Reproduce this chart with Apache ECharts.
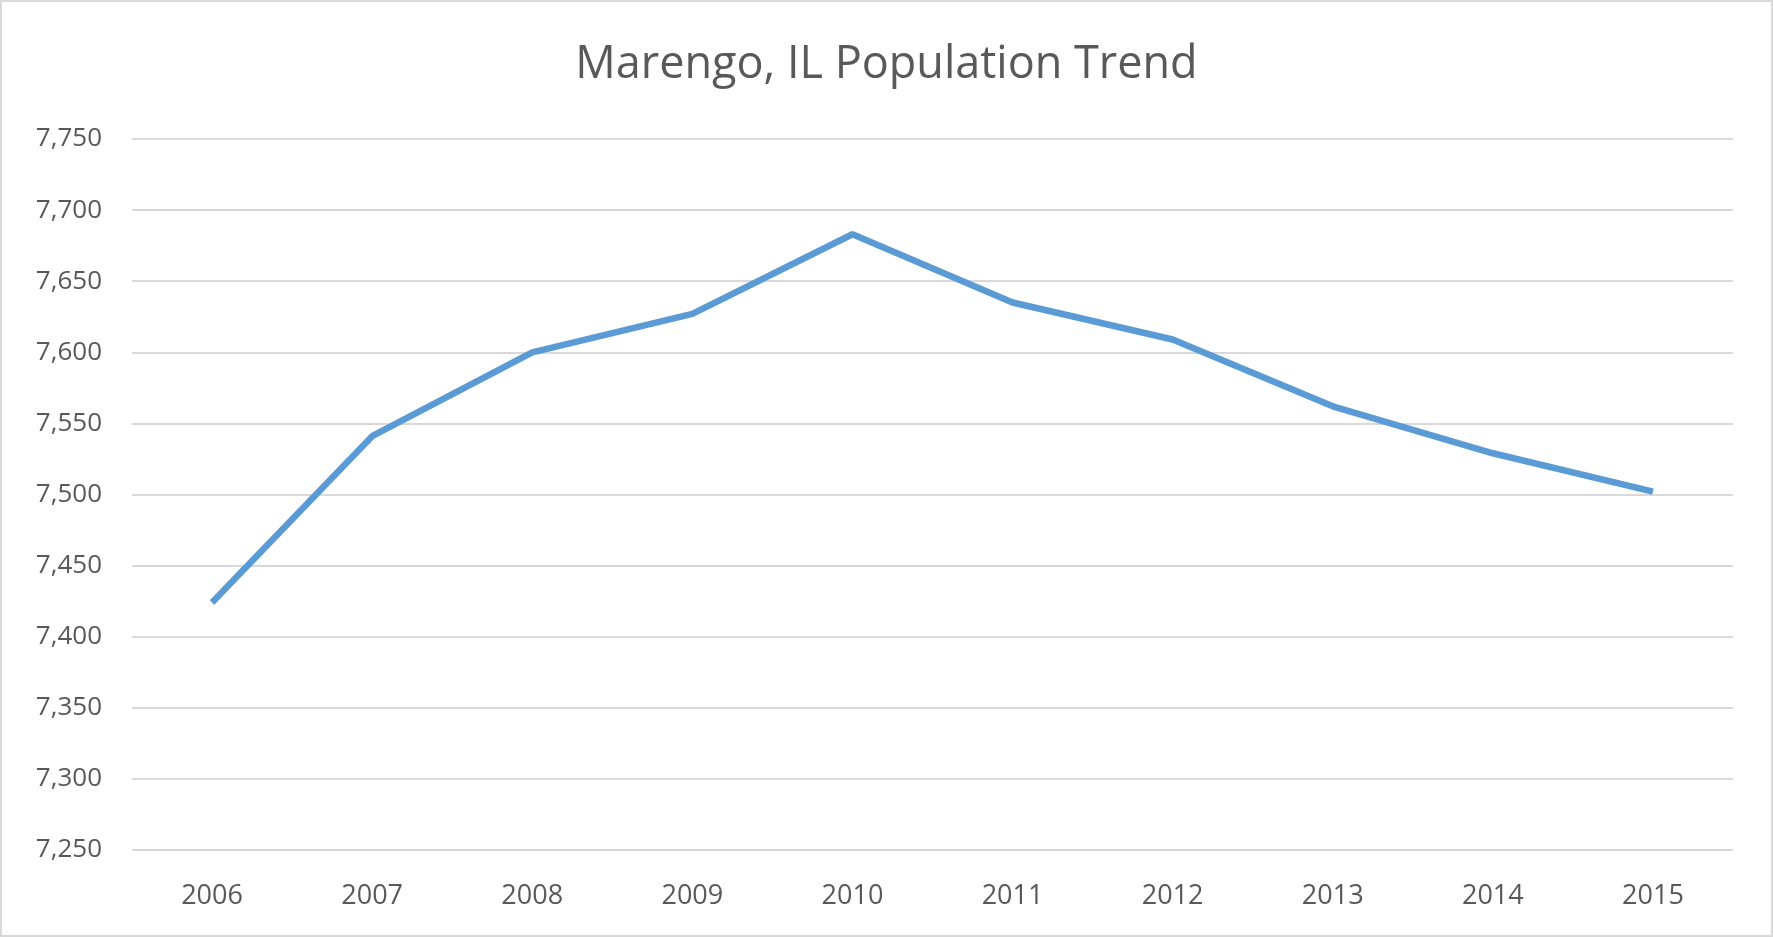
<!DOCTYPE html>
<html>
<head>
<meta charset="utf-8">
<title>Marengo, IL Population Trend</title>
<script src="https://cdn.jsdelivr.net/npm/echarts@6/dist/echarts.min.js"></script>
<style>
  html, body { margin: 0; padding: 0; background: #fff; }
  #chart { width: 1773px; height: 937px; box-sizing: border-box; border: 2px solid #d9d9d9; }
</style>
</head>
<body>
<div id="chart"></div>
<script>
// years on the x axis
const years = ['2006', '2007', '2008', '2009', '2010', '2011', '2012', '2013', '2014', '2015'];
// population
const population = [7424, 7541, 7600, 7627, 7683, 7635, 7609, 7562, 7529, 7502];
// y axis range
const yMin = 7250;
const yMax = 7750;
const yStep = 50;

const chart = echarts.init(document.getElementById('chart'));

const option = {
  backgroundColor: '#fff',
  animation: false,
  title: {
    text: 'Marengo, IL Population Trend',
    left: 'center',
    top: 36,
    textStyle: {
      fontFamily: 'Open Sans',
      fontWeight: 'normal',
      fontSize: 45,
      color: '#595959'
    }
  },
  grid: {
    left: 130,
    right: 38,
    top: 137,
    bottom: 85
  },
  xAxis: {
    type: 'category',
    data: years,
    boundaryGap: true,
    axisLine: { show: false },
    axisTick: { show: false },
    axisLabel: {
      color: '#595959',
      fontFamily: 'Open Sans',
      fontSize: 27,
      margin: 33
    }
  },
  yAxis: {
    type: 'value',
    min: yMin,
    max: yMax,
    interval: yStep,
    axisLine: { show: false },
    axisTick: { show: false },
    splitLine: {
      lineStyle: { color: '#d9d9d9', width: 2 }
    },
    axisLabel: {
      color: '#595959',
      fontFamily: 'Open Sans',
      fontSize: 26,
      margin: 30,
      formatter: function (v) {
        return v.toLocaleString('en-US');
      }
    }
  },
  series: [
    {
      type: 'line',
      data: population,
      symbol: 'none',
      lineStyle: {
        color: '#5b9bd5',
        width: 6.5
      }
    }
  ]
};

chart.setOption(option);
</script>
</body>
</html>
